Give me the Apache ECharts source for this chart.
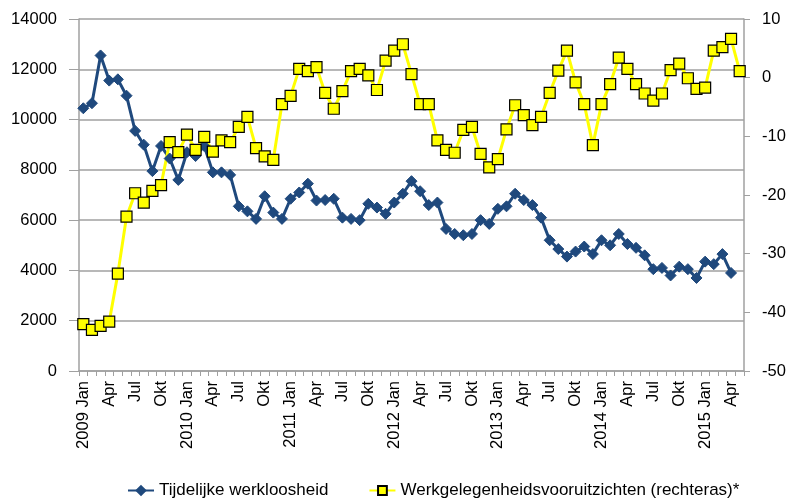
<!DOCTYPE html>
<html>
<head>
<meta charset="utf-8">
<script src="https://cdn.jsdelivr.net/npm/echarts@6/dist/echarts.min.js"></script>
<style>
html,body{margin:0;padding:0;background:#fff;}
#chart{width:791px;height:504px;}
</style>
</head>
<body>
<div id="chart"></div>
<script>
var categories = [
 '2009 Jan','Feb','Mrt','Apr','Mei','Jun','Jul','Aug','Sep','Okt','Nov','Dec',
 '2010 Jan','Feb','Mrt','Apr','Mei','Jun','Jul','Aug','Sep','Okt','Nov','Dec',
 '2011 Jan','Feb','Mrt','Apr','Mei','Jun','Jul','Aug','Sep','Okt','Nov','Dec',
 '2012 Jan','Feb','Mrt','Apr','Mei','Jun','Jul','Aug','Sep','Okt','Nov','Dec',
 '2013 Jan','Feb','Mrt','Apr','Mei','Jun','Jul','Aug','Sep','Okt','Nov','Dec',
 '2014 Jan','Feb','Mrt','Apr','Mei','Jun','Jul','Aug','Sep','Okt','Nov','Dec',
 '2015 Jan','Feb','Mrt','Apr','Mei'
];

var tijdelijkeWerkloosheid = [
 10450,10650,12550,11550,11600,10950,9550,9000,7950,8950,8450,7600,
 8700,8550,8950,7900,7900,7800,6550,6350,6050,6950,6300,6050,
 6850,7100,7450,6780,6800,6850,6100,6050,6000,6650,6500,6250,
 6700,7050,7550,7150,6600,6700,5650,5450,5400,5450,6000,5850,
 6450,6550,7050,6800,6600,6100,5200,4850,4550,4750,4950,4650,
 5200,5000,5450,5050,4900,4600,4050,4100,3800,4150,4050,3700,
 4350,4250,4650,3900
];

var werkgelegenheidsvooruitzichten = [
 -42.0,-43.0,-42.3,-41.6,-33.4,-23.7,-19.7,-21.3,-19.3,-18.3,-11.0,-12.7,
 -9.7,-12.3,-10.1,-12.6,-10.7,-11.0,-8.4,-6.7,-12.0,-13.4,-14.0,-4.5,
 -3.1,1.5,1.1,1.8,-2.6,-5.3,-2.3,1.1,1.5,0.4,-2.1,2.9,
 4.6,5.7,0.6,-4.5,-4.5,-10.7,-12.3,-12.8,-8.9,-8.4,-13.0,-15.3,
 -13.9,-8.8,-4.7,-6.4,-8.1,-6.7,-2.6,1.2,4.6,-0.8,-4.5,-11.5,
 -4.5,-1.1,3.4,1.5,-1.1,-2.7,-3.9,-2.7,1.3,2.4,-0.1,-1.9,
 -1.7,4.6,5.2,6.6,1.1
];

var leftTicks = {min:0, max:14000, interval:2000};
var rightTicks = {min:-50, max:10, interval:10};
var seriesNames = ['Tijdelijke werkloosheid','Werkgelegenheidsvooruitzichten (rechteras)*'];

var FONT = "'Liberation Sans Narrow','Arial Narrow','Liberation Sans',Arial,sans-serif";
var chart = echarts.init(document.getElementById('chart'), null, {renderer:'canvas'});
chart.setOption({
  animation:false,
  backgroundColor:'#ffffff',
  grid:{left:79, right:47, top:19, bottom:133, containLabel:false},
  legend:{
    left:122, top:477, width:660,
    itemWidth:26, itemHeight:11, itemGap:40,
    textStyle:{fontFamily:FONT, fontSize:17, color:'#000'},
    data:seriesNames
  },
  xAxis:{
    type:'category', data:categories, boundaryGap:true,
    axisLine:{lineStyle:{color:'#a0a0a0', width:1.5}},
    axisTick:{show:true, interval:0, length:5, lineStyle:{color:'#a0a0a0'}},
    axisLabel:{interval:2, rotate:90, margin:10, fontFamily:FONT, fontSize:16.5, color:'#000'},
    splitLine:{show:false}
  },
  yAxis:[
    {type:'value', min:leftTicks.min, max:leftTicks.max, interval:leftTicks.interval, position:'left',
     axisLine:{show:true, lineStyle:{color:'#a0a0a0', width:1.5}},
     axisTick:{show:true, length:10, lineStyle:{color:'#a0a0a0'}},
     axisLabel:{margin:22, fontFamily:FONT, fontSize:16.5, color:'#000', formatter:function(v){return String(v);}},
     splitLine:{show:true, lineStyle:{color:'#a0a0a0', width:1.5}}},
    {type:'value', min:rightTicks.min, max:rightTicks.max, interval:rightTicks.interval, position:'right',
     axisLine:{show:true, lineStyle:{color:'#a0a0a0', width:1.5}},
     axisTick:{show:true, length:6, lineStyle:{color:'#a0a0a0'}},
     axisLabel:{margin:18, fontFamily:FONT, fontSize:16.5, color:'#000', formatter:function(v){return String(v);}},
     splitLine:{show:false}}
  ],
  series:[
    {name:seriesNames[0], type:'line', yAxisIndex:0, data:tijdelijkeWerkloosheid,
     symbol:'diamond', symbolSize:11, showAllSymbol:true,
     lineStyle:{color:'#1F497D', width:3},
     itemStyle:{color:'#1F497D', borderColor:'#1F497D', borderWidth:1}},
    {name:seriesNames[1], type:'line', yAxisIndex:1, data:werkgelegenheidsvooruitzichten,
     symbol:'rect', symbolSize:11, showAllSymbol:true,
     lineStyle:{color:'#FFFF00', width:3},
     itemStyle:{color:'#FFFF00', borderColor:'#000000', borderWidth:1.2}}
  ]
});
</script>
</body>
</html>
